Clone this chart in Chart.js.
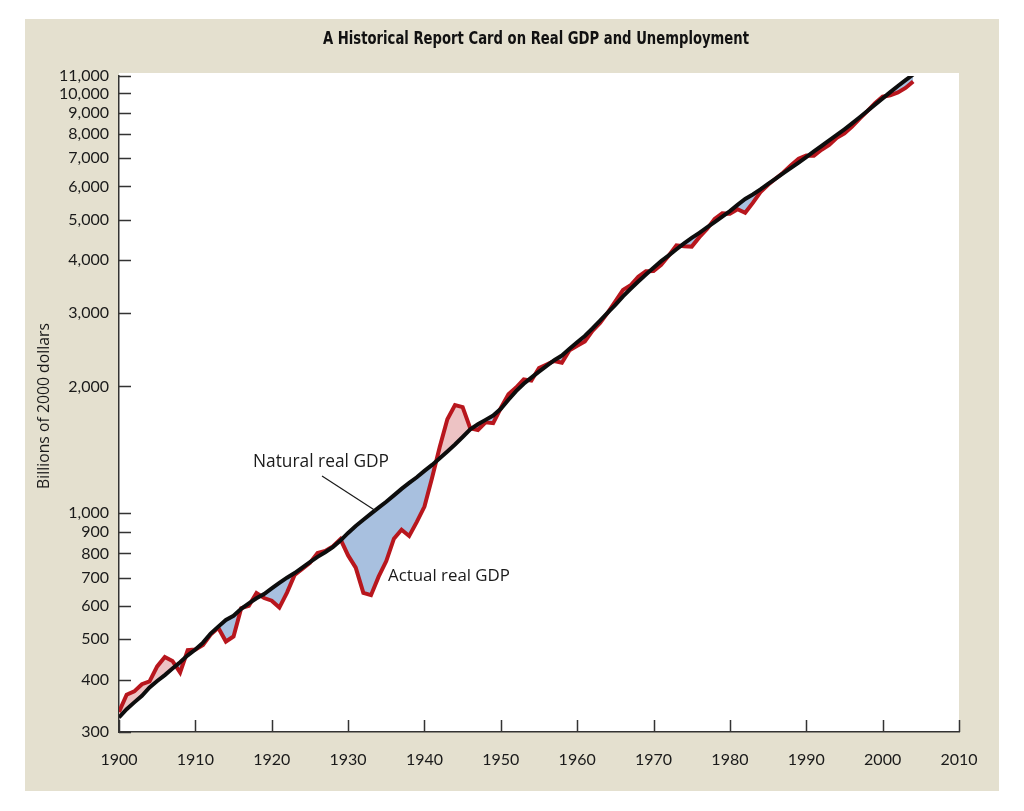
<!DOCTYPE html>
<html lang="en">
<head>
<meta charset="utf-8" />
<title>A Historical Report Card on Real GDP and Unemployment</title>
<script src="https://cdn.jsdelivr.net/npm/chart.js@4.4.0/dist/chart.umd.min.js"></script>
<style>
  html, body { margin: 0; padding: 0; background: #ffffff; }
</style>
</head>
<body>
<canvas id="gdpChart" width="1024" height="811"></canvas>
<script>
// years on the x axis
var years = [1900,1901,1902,1903,1904,1905,1906,1907,1908,1909,
             1910,1911,1912,1913,1914,1915,1916,1917,1918,1919,
             1920,1921,1922,1923,1924,1925,1926,1927,1928,1929,
             1930,1931,1932,1933,1934,1935,1936,1937,1938,1939,
             1940,1941,1942,1943,1944,1945,1946,1947,1948,1949,
             1950,1951,1952,1953,1954,1955,1956,1957,1958,1959,
             1960,1961,1962,1963,1964,1965,1966,1967,1968,1969,
             1970,1971,1972,1973,1974,1975,1976,1977,1978,1979,
             1980,1981,1982,1983,1984,1985,1986,1987,1988,1989,
             1990,1991,1992,1993,1994,1995,1996,1997,1998,1999,
             2000,2001,2002,2003,2004];

// actual real GDP, billions of 2000 dollars
var actualGDP = [335,368,375,390,396,430,453,443,416,470,
                 472,484,512,532,493,507,592,600,643,626,
                 617,594,645,711,734,759,802,811,831,865,
                 791,740,644,636,704,767,867,911,880,951,
                 1034,1211,1435,1671,1806,1786,1589,1575,1643,1635,
                 1777,1915,1988,2080,2065,2213,2256,2301,2279,2441,
                 2502,2560,2715,2834,2999,3191,3399,3485,3653,3765,
                 3772,3899,4105,4342,4320,4311,4541,4751,5015,5173,
                 5162,5292,5189,5480,5814,6054,6264,6475,6743,6981,
                 7113,7101,7337,7533,7836,8032,8329,8704,9067,9470,
                 9817,9891,10049,10301,10676];

// natural (potential) real GDP, billions of 2000 dollars
var naturalGDP = [325,340,353,366,383,397,410,425,440,457,
                  472,490,515,535,555,568,590,608,625,640,
                  660,680,700,718,740,762,785,805,828,858,
                  895,930,962,995,1028,1062,1100,1140,1178,1215,
                  1258,1300,1348,1400,1455,1515,1580,1625,1665,1705,
                  1770,1860,1950,2030,2100,2170,2240,2310,2370,2460,
                  2550,2640,2750,2870,3000,3130,3280,3420,3560,3700,
                  3840,3980,4110,4250,4390,4520,4650,4790,4930,5080,
                  5240,5420,5600,5740,5900,6080,6260,6450,6640,6840,
                  7050,7270,7490,7720,7960,8210,8480,8770,9080,9400,
                  9730,10070,10410,10750,11090];

var xTicks = [1900,1910,1920,1930,1940,1950,1960,1970,1980,1990,2000,2010];
var yTicks = [300,400,500,600,700,800,900,1000,2000,3000,4000,5000,6000,7000,8000,9000,10000,11000];

var PANEL = '#e4e0cf';
var AXIS = '#333333';
var RED = '#b8161d';
var PINK = '#edc3c4';
var BLUE = '#a8c0df';
var TEXT_FONT = '"Open Sans", Lato, sans-serif';

function toPoints(vals) {
    return years.map(function(yr, i) { return { x: yr, y: vals[i] }; });
}

// set a font so that the text takes the given width
function fitFont(ctx, text, weight, family, width) {
    ctx.font = weight + ' 20px ' + family;
    var size = 20 * width / ctx.measureText(text).width;
    ctx.font = weight + ' ' + size.toFixed(2) + 'px ' + family;
}

// panel, title, inward tick marks and labels
var decorations = {
    id: 'decorations',
    beforeDraw: function(chart) {
        var ctx = chart.ctx, a = chart.chartArea;
        ctx.save();
        ctx.fillStyle = '#ffffff';
        ctx.fillRect(0, 0, chart.width, chart.height);
        ctx.fillStyle = PANEL;
        ctx.fillRect(25, 19, 974, 772);
        ctx.fillStyle = '#ffffff';
        ctx.fillRect(a.left, 73, a.right - a.left, a.bottom - 73);

        // title: tall condensed look, squeezed to the reference width
        var title = 'A Historical Report Card on Real GDP and Unemployment';
        ctx.save();
        ctx.font = 'bold 17px "DejaVu Sans Condensed", sans-serif';
        var sx = 426 / ctx.measureText(title).width;
        ctx.translate(536, 40);
        ctx.scale(sx, 1);
        ctx.fillStyle = '#111111';
        ctx.textAlign = 'center';
        ctx.textBaseline = 'middle';
        ctx.fillText(title, 0, 0);
        ctx.restore();

        // y axis title
        ctx.translate(45, 406);
        ctx.rotate(-Math.PI / 2);
        fitFont(ctx, 'Billions of 2000 dollars', 'normal', TEXT_FONT, 166);
        ctx.fillStyle = '#1a1a1a';
        ctx.textAlign = 'center';
        ctx.textBaseline = 'middle';
        ctx.fillText('Billions of 2000 dollars', 0, 0);
        ctx.restore();
    },
    beforeDatasetsDraw: function(chart) {
        var ctx = chart.ctx, a = chart.chartArea;
        var xs = chart.scales.x, ys = chart.scales.y;
        ctx.save();
        ctx.strokeStyle = AXIS;
        ctx.lineWidth = 1.5;
        ctx.beginPath();
        yTicks.forEach(function(v) {
            var py = Math.round(ys.getPixelForValue(v)) + 0.5;
            ctx.moveTo(a.left, py);
            ctx.lineTo(a.left + 12, py);
        });
        xTicks.forEach(function(v) {
            var px = Math.round(xs.getPixelForValue(v)) + 0.5;
            ctx.moveTo(px, a.bottom);
            ctx.lineTo(px, a.bottom - 12);
        });
        ctx.stroke();
        ctx.restore();
    },
    afterDraw: function(chart) {
        var ctx = chart.ctx;
        ctx.save();
        ctx.fillStyle = '#1a1a1a';
        ctx.textAlign = 'left';
        ctx.textBaseline = 'middle';
        fitFont(ctx, 'Natural real GDP', 'normal', TEXT_FONT, 136);
        ctx.fillText('Natural real GDP', 253, 462);
        fitFont(ctx, 'Actual real GDP', 'normal', TEXT_FONT, 122);
        ctx.fillText('Actual real GDP', 388, 576);
        ctx.strokeStyle = '#1a1a1a';
        ctx.lineWidth = 1.2;
        ctx.beginPath();
        ctx.moveTo(322, 476);
        ctx.lineTo(376, 511);
        ctx.stroke();
        ctx.restore();
    }
};

var ctx = document.getElementById('gdpChart').getContext('2d');
var gdpChart = new Chart(ctx, {
    type: 'line',
    data: {
        datasets: [
            {
                label: 'Natural real GDP',
                data: toPoints(naturalGDP),
                borderColor: '#0d0d0d',
                borderWidth: 4,
                pointRadius: 0,
                tension: 0,
                fill: false
            },
            {
                label: 'Actual real GDP',
                data: toPoints(actualGDP),
                borderColor: RED,
                borderWidth: 4,
                pointRadius: 0,
                tension: 0,
                fill: { target: 0, above: PINK, below: BLUE }
            }
        ]
    },
    options: {
        responsive: false,
        animation: false,
        devicePixelRatio: 1,
        layout: { padding: { left: 0, top: 76, right: 65, bottom: 29 } },
        plugins: {
            legend: { display: false },
            title: { display: false },
            tooltip: { enabled: false }
        },
        scales: {
            x: {
                type: 'linear',
                min: 1900,
                max: 2010,
                afterBuildTicks: function(s) { s.ticks = xTicks.map(function(v) { return { value: v }; }); },
                afterFit: function(s) { s.height = 50; },
                grid: { display: false },
                border: { display: true, color: AXIS, width: 1.5 },
                ticks: {
                    autoSkip: false,
                    maxRotation: 0,
                    padding: 10,
                    color: '#1a1a1a',
                    font: { family: 'Lato, "Open Sans", sans-serif', size: 16 },
                    callback: function(v) { return String(v); }
                }
            },
            y: {
                type: 'logarithmic',
                min: 300,
                max: 11000,
                afterBuildTicks: function(s) { s.ticks = yTicks.map(function(v) { return { value: v }; }); },
                afterFit: function(s) { s.width = 119; },
                grid: { display: false },
                border: { display: true, color: AXIS, width: 1.5 },
                ticks: {
                    autoSkip: false,
                    padding: 2,
                    color: '#1a1a1a',
                    font: { family: 'Lato, "Open Sans", sans-serif', size: 16 },
                    callback: function(v) { return Number(v).toLocaleString('en-US'); }
                }
            }
        }
    },
    plugins: [decorations]
});
</script>
</body>
</html>
